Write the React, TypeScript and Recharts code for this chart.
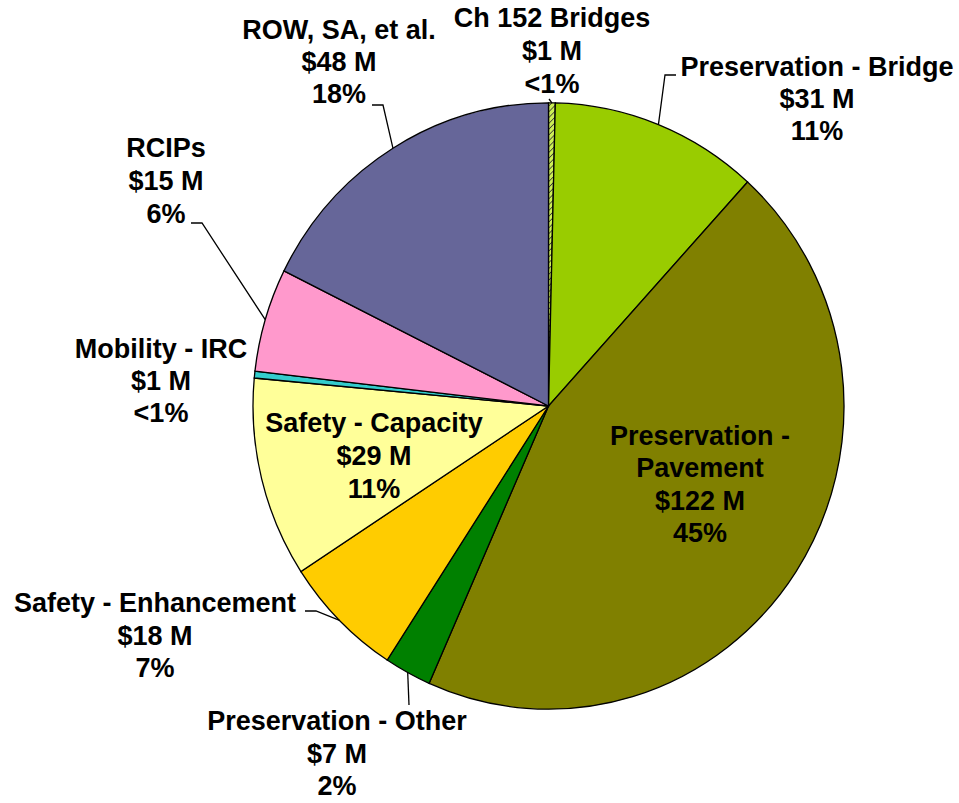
import { PieChart, Pie, Cell } from 'recharts'

// budget split, clockwise from 12 o'clock
const categories = [
  'Ch 152 Bridges',
  'Preservation - Bridge',
  'Preservation - Pavement',
  'Preservation - Other',
  'Safety - Enhancement',
  'Safety - Capacity',
  'Mobility - IRC',
  'RCIPs',
  'ROW, SA, et al.',
]
const amounts = [1, 31, 122, 7, 18, 29, 1, 15, 48]
const amountLabels = ['$1 M', '$31 M', '$122 M', '$7 M', '$18 M', '$29 M', '$1 M', '$15 M', '$48 M']
const percentLabels = ['<1%', '11%', '45%', '2%', '7%', '11%', '<1%', '6%', '18%']

const colors = [
  'url(#hatch)',
  '#99CC00',
  '#808000',
  '#008000',
  '#FFCC00',
  '#FFFF99',
  '#33CCCC',
  '#FF99CC',
  '#666699',
]

const data = categories.map((name, i) => ({ name, value: amounts[i] }))

const CX = 548.5
const CY = 406
const RADIUS = 295.5
// the original pie is a little taller than wide
const Y_STRETCH = 1.026

// label placement: centre x, first baseline, line step, leader elbow + end
type Spot = { x: number; y: number; step: number; lines?: string[]; leader?: number[][] }
const spots: Spot[] = [
  { x: 552, y: 27, step: 33, leader: [[549, 99]] },
  { x: 817, y: 76, step: 32, leader: [[665, 75], [676, 75]] },
  { x: 700, y: 445, step: 32.3, lines: ['Preservation -', 'Pavement'] },
  { x: 337, y: 730, step: 32.5, leader: [[409, 705]] },
  { x: 155, y: 612, step: 32.5, leader: [[316, 611], [305, 611]] },
  { x: 374, y: 432, step: 33 },
  { x: 161, y: 358, step: 32 },
  { x: 166, y: 157, step: 33, leader: [[202, 223], [191, 223]] },
  { x: 339, y: 39, step: 32, leader: [[383, 105], [372, 105]] },
]

const renderLabel = (props: any) => {
  const { cx, cy, midAngle, outerRadius, index } = props
  const spot = spots[index]
  const rad = (midAngle * Math.PI) / 180
  const ex = cx + outerRadius * Math.cos(rad)
  const ey = cy - outerRadius * Y_STRETCH * Math.sin(rad)
  const lines = [...(spot.lines ?? [categories[index]]), amountLabels[index], percentLabels[index]]
  return (
    <g key={`lbl-${index}`}>
      {spot.leader && (
        <polyline
          points={[[ex, ey], ...spot.leader].map((p) => p.join(',')).join(' ')}
          fill="none"
          stroke="#000"
          strokeWidth={1.3}
        />
      )}
      {lines.map((t, j) => (
        <text
          key={j}
          x={spot.x}
          y={spot.y + j * spot.step}
          textAnchor="middle"
          fontFamily="'Liberation Sans', Arial, sans-serif"
          fontWeight="bold"
          fontSize={27}
          fill="#000"
        >
          {t}
        </text>
      ))}
    </g>
  )
}

export default function App() {
  return (
    <div style={{ position: 'absolute', left: 0, top: 0, background: '#fff' }}>
      <style>{`.recharts-sector { transform: scaleY(${Y_STRETCH}); transform-origin: ${CX}px ${CY}px; }`}</style>
      <PieChart width={959} height={803} margin={{ top: 0, right: 0, bottom: 0, left: 0 }}>
        <defs>
          <pattern id="hatch" width="4" height="4" patternUnits="userSpaceOnUse" patternTransform="rotate(45)">
            <rect width="4" height="4" fill="#CCEE55" />
            <line x1="0" y1="0" x2="0" y2="4" stroke="#333" strokeWidth="1.5" />
          </pattern>
        </defs>
        <Pie
          data={data}
          dataKey="value"
          nameKey="name"
          cx={CX}
          cy={CY}
          outerRadius={RADIUS}
          startAngle={90}
          endAngle={-270}
          stroke="#000"
          strokeWidth={1.3}
          label={renderLabel}
          labelLine={false}
          isAnimationActive={false}
        >
          {data.map((d, i) => (
            <Cell key={d.name} fill={colors[i]} />
          ))}
        </Pie>
      </PieChart>
    </div>
  )
}
